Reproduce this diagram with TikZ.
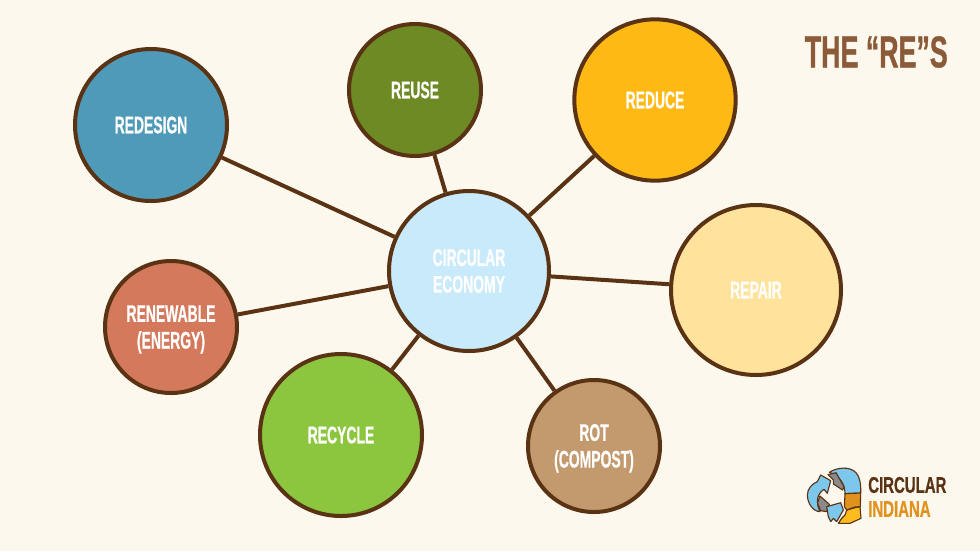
\documentclass[tikz,border=0pt]{standalone}
\usepackage{fontspec}
\setmainfont[FakeStretch=0.58,FakeBold=0.6,BoldFont={Liberation Sans Bold}]{Liberation Sans}
\newfontfamily\logofont[FakeStretch=0.66,FakeBold=0.6]{Liberation Sans Bold}
\newfontfamily\titlefont[FakeStretch=0.6,FakeBold=0.8]{Liberation Sans Bold}
\definecolor{bgc}{HTML}{FDF8ED}
\definecolor{edgec}{HTML}{5A3214}
\definecolor{titlec}{HTML}{8B5A38}
\definecolor{cblue}{HTML}{4E9AB8}
\definecolor{cgreen}{HTML}{6E8A24}
\definecolor{cyellow}{HTML}{FFB914}
\definecolor{clight}{HTML}{FFE29B}
\definecolor{ctan}{HTML}{C39A6E}
\definecolor{clime}{HTML}{8CC63F}
\definecolor{cterra}{HTML}{D4795C}
\definecolor{ccenter}{HTML}{C8EAFB}
\definecolor{lblue}{HTML}{7CC8EC}
\definecolor{lgrey}{HTML}{8A8A8A}
\definecolor{lorange}{HTML}{E0921E}
\definecolor{lyellow}{HTML}{FDBB1E}
\begin{document}
\begin{tikzpicture}[x=0.75pt,y=-0.75pt,
  bub/.style={circle,draw=edgec,line width=3pt,inner sep=0pt,text=white,align=center,font=\fontsize{18}{20}\selectfont\bfseries},
  link/.style={draw=edgec,line width=3pt},
  lg/.style={draw=edgec,line width=0.85pt,line join=round}]
\useasboundingbox (0,0) rectangle (980,551);
\fill[bgc] (0,0) rectangle (980,551);
\node[bub,fill=ccenter,minimum size=120pt] (ce) at (469,271) {CIRCULAR\\ECONOMY};
\node[bub,fill=cblue,minimum size=114pt] (rd) at (151,125) {REDESIGN};
\node[bub,fill=cgreen,minimum size=99pt] (ru) at (415,90) {REUSE};
\node[bub,fill=cyellow,minimum size=121pt] (rc) at (655,100) {REDUCE};
\node[bub,fill=clight,minimum size=127.5pt] (rp) at (756,290) {REPAIR};
\node[bub,fill=ctan,minimum size=99pt] (ro) at (594,446) {\rule{0pt}{16pt}ROT\\(COMPOST)};
\node[bub,fill=clime,minimum size=121.5pt] (ry) at (341,435) {RECYCLE};
\node[bub,fill=cterra,minimum size=99pt] (rn) at (171,327) {\rule{0pt}{16pt}RENEWABLE\\(ENERGY)};
\foreach \n in {rd,ru,rc,rp,ro,ry,rn} \draw[link] (ce) -- (\n);
\node[text=titlec,font=\fontsize{33.5}{34}\selectfont\titlefont,anchor=east,inner sep=0pt] (title) at (948,52) {THE “RE”S};
% logo, coordinates as read from a 3x crop at (800,460)
\begin{scope}[shift={(800,460)},x=0.25pt,y=-0.25pt]
\fill[lblue,lg] (88,37) .. controls (110,22) and (150,18) .. (168,38) .. controls (180,50) and (183,75) .. (182,99) -- (135,101) .. controls (135,80) and (125,55) .. (100,42) -- cycle;
\fill[lgrey,lg] (84,44) -- (108,38) -- (132,80) -- (128,90) -- (100,72) -- (100,60) -- cycle;
\fill[lgrey,lg] (60,108) -- (88,133) -- (80,155) -- (62,152) -- (52,130) -- cycle;
\fill[lblue,lg] (62,45) -- (92,62) -- (82,100) -- (72,88) .. controls (60,95) and (52,108) .. (52,125) .. controls (52,135) and (55,145) .. (60,155) .. controls (40,155) and (22,130) .. (22,105) .. controls (22,85) and (38,70) .. (52,65) -- cycle;
\fill[lblue,lg] (80,140) -- (122,128) -- (130,150) -- (110,185) -- (100,175) -- (92,185) -- (85,170) -- cycle;
\fill[lyellow,lg] (140,150) -- (165,143) -- (180,140) -- (183,175) -- (150,190) -- (115,190) -- (125,175) -- (135,165) -- cycle;
\fill[lorange,lg] (135,101) -- (182,99) -- (181,140) -- (165,141) -- (140,150) -- (133,140) -- cycle;
\end{scope}
\node[text=edgec,font=\fontsize{17}{17}\selectfont\logofont,anchor=west,inner sep=0pt] (l1) at (868,485) {CIRCULAR};
\node[text=lorange,font=\fontsize{17}{17}\selectfont\logofont,anchor=west,inner sep=0pt] (l2) at (868,509) {INDIANA};
\end{tikzpicture}
\end{document}
